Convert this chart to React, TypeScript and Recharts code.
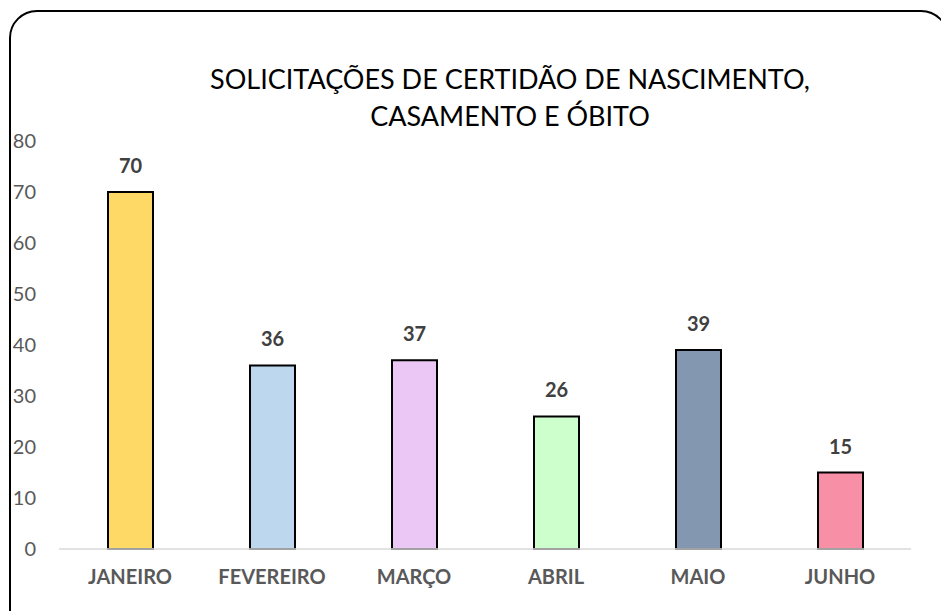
import { Bar, BarChart, Cell, LabelList, XAxis, YAxis } from 'recharts';

const MONTHS = ['JANEIRO', 'FEVEREIRO', 'MARÇO', 'ABRIL', 'MAIO', 'JUNHO'];
const TOTALS = [70, 36, 37, 26, 39, 15];
const BAR_COLORS = ['#ffd966', '#bdd7ee', '#eac7f4', '#ccffcc', '#8497b0', '#f78fa7'];
const Y_TICKS = [0, 10, 20, 30, 40, 50, 60, 70, 80];

const TITLE = ['SOLICITAÇÕES DE CERTIDÃO DE NASCIMENTO,', 'CASAMENTO E ÓBITO'];

const data = MONTHS.map((m, i) => ({ month: m, total: TOTALS[i] }));

const FONT = 'Lato, "Open Sans", sans-serif';

export default function App() {
  return (
    <div
      style={{
        position: 'fixed',
        left: 0,
        top: 0,
        width: 941,
        height: 611,
        overflow: 'hidden',
        background: '#fff',
        fontFamily: FONT,
      }}
    >
      {/* rounded frame, runs off the right/bottom edge like the original */}
      <div
        style={{
          position: 'absolute',
          left: 9,
          top: 10,
          width: 940,
          height: 640,
          border: '2px solid #000',
          borderRadius: 28,
          boxSizing: 'border-box',
        }}
      />
      {TITLE.map((line, i) => (
        <div
          key={i}
          style={{
            position: 'absolute',
            left: 0,
            width: 1020,
            top: 61 + i * 37,
            textAlign: 'center',
            fontSize: 27,
            lineHeight: '36px',
            color: '#000',
          }}
        >
          {line}
        </div>
      ))}
      <div style={{ position: 'absolute', left: 0, top: 0 }}>
        <BarChart
          width={941}
          height={611}
          data={data}
          margin={{ top: 141, right: 30, bottom: 32, left: 9 }}
          barSize={45}
        >
          <YAxis
            width={50}
            domain={[0, 80]}
            ticks={Y_TICKS}
            axisLine={false}
            tickLine={false}
            tickSize={0}
            tickMargin={23}
            tick={{ fill: '#595959', fontSize: 20, fontFamily: FONT }}
          />
          <XAxis
            dataKey="month"
            height={30}
            axisLine={{ stroke: '#d9d9d9', strokeWidth: 1.5 }}
            tickLine={false}
            tickSize={0}
            tickMargin={21}
            interval={0}
            tick={{ fill: '#595959', fontSize: 20, fontWeight: 700, fontFamily: FONT }}
          />
          <Bar dataKey="total" stroke="#000" strokeWidth={2} isAnimationActive={false}>
            {data.map((d, i) => (
              <Cell key={d.month} fill={BAR_COLORS[i]} />
            ))}
            <LabelList
              dataKey="total"
              position="top"
              offset={19}
              style={{ fill: '#404040', fontSize: 20, fontWeight: 700, fontFamily: FONT }}
            />
          </Bar>
        </BarChart>
      </div>
    </div>
  );
}
